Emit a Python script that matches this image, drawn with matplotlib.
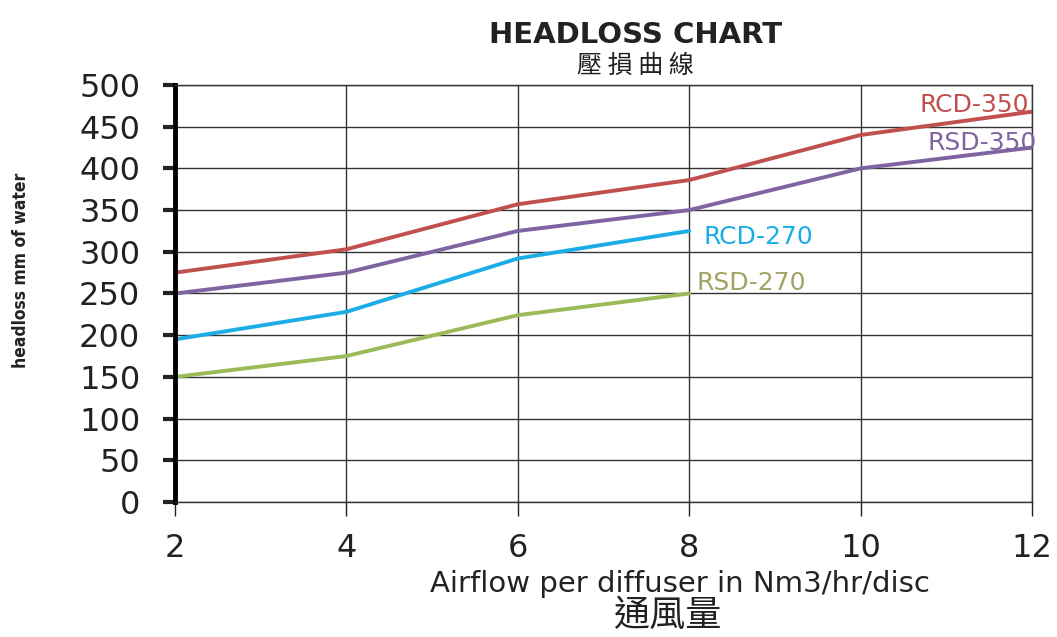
import matplotlib
matplotlib.use("Agg")
import matplotlib.pyplot as plt

plt.rcParams['font.family'] = ['DejaVu Sans', 'Noto Sans CJK TC']

airflow = [2, 4, 6, 8, 10, 12]
rcd350 = [275, 303, 357, 386, 440, 468]
rsd350 = [250, 275, 325, 350, 400, 425]
airflow_270 = [2, 4, 6, 8]
rcd270 = [195, 228, 292, 325]
rsd270 = [150, 175, 224, 250]

series = [
    ("RCD-350", airflow, rcd350, "#C0504D", "#C0504D", (11.33, 476), "center"),
    ("RSD-350", airflow, rsd350, "#8064A2", "#8064A2", (11.42, 430), "center"),
    ("RCD-270", airflow_270, rcd270, "#1DADE6", "#1DADE6", (8.17, 318), "left"),
    ("RSD-270", airflow_270, rsd270, "#9BBB59", "#A3A366", (8.08, 263), "left"),
]

fig = plt.figure(figsize=(10.57, 6.37), dpi=100)
ax = fig.add_axes([0.1656, 0.2119, 0.8107, 0.6547])

for name, x, y, c, tc, pos, ha in series:
    ax.plot(x, y, color=c, lw=2.8, solid_capstyle='round')
    ax.text(pos[0], pos[1], name, color=tc, fontsize=18, ha=ha, va='center')

ax.set_xlim(2, 12)
ax.set_ylim(0, 500)
ax.set_xticks(airflow)
ax.set_yticks(range(0, 501, 50))
ax.grid(True, color='#333333', lw=1)
for s in ['top', 'right', 'bottom']:
    ax.spines[s].set_color('#333333')
    ax.spines[s].set_linewidth(1)
ax.spines['left'].set_linewidth(3.5)
ax.spines['left'].set_color('black')
ax.tick_params(axis='y', length=9, width=3, labelsize=23, pad=16, colors='#222222')
ax.tick_params(axis='x', length=10, width=1, labelsize=23, pad=12, colors='#222222')

fig.text(0.601, 0.945, "HEADLOSS CHART", fontsize=21, fontweight='bold',
         ha='center', va='center', color='#222222')
fig.text(0.601, 0.896, "壓 損 曲 線", fontsize=18, ha='center', va='center',
         family=['Noto Sans CJK TC'], color='#222222')
fig.text(0.643, 0.083, "Airflow per diffuser in Nm3/hr/disc", fontsize=21,
         ha='center', va='center', color='#222222', fontstretch='normal')
fig.text(0.631, 0.033, "通風量", fontsize=26, ha='center', va='center',
         family=['Noto Sans CJK TC'], color='#222222')
fig.text(0.02, 0.576, "headloss mm of water", fontsize=12.5, rotation=90,
         ha='center', va='center', color='#222222', fontstretch='condensed',
         fontweight='bold')

fig.savefig("out.png", dpi=100)
